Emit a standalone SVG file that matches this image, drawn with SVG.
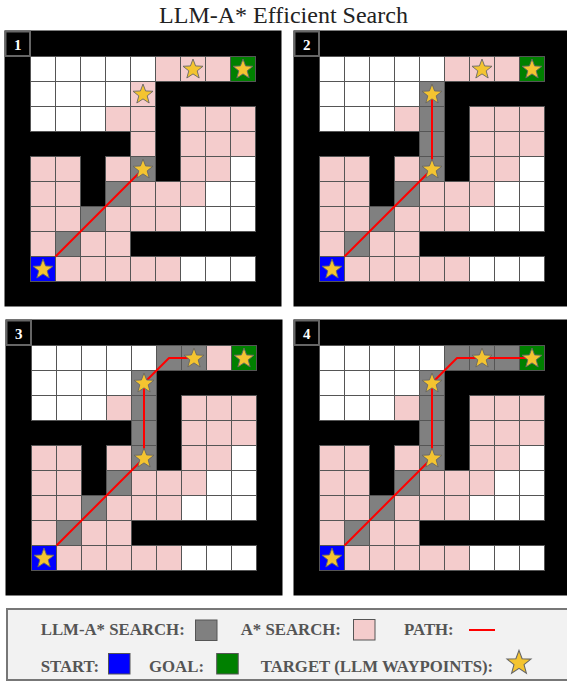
<svg xmlns="http://www.w3.org/2000/svg" xmlns:xlink="http://www.w3.org/1999/xlink" width="567" height="684" viewBox="0 0 567 684">
<style>
.w{fill:#ffffff}
.p{fill:#f4cccc}
.g{fill:#808080}
.b{fill:#0000ff}
.gr{fill:#008000}
.cells rect, .vcell{stroke:#555;stroke-width:1}
.bg{fill:#000}
.lab{fill:#000;stroke:#666;stroke-width:2}
.num{fill:#fff;font-family:"Liberation Serif",serif;font-weight:bold;font-size:15px;text-anchor:middle}
.path{fill:none;stroke:#ff0000;stroke-width:2;stroke-linejoin:round}
.star{fill:#f4c430;stroke:#666;stroke-width:0.9}
.lt{fill:#555;font-family:"Liberation Serif",serif;font-weight:bold;font-size:16.8px}
</style>
<defs>
<polygon id="star" class="star" points="0,-10.5 2.59,-3.56 9.99,-3.25 4.19,1.36 6.17,8.5 0,4.4 -6.17,8.5 -4.19,1.36 -9.99,-3.25 -2.59,-3.56"/>
<g id="base">
<rect class="bg" x="-26" y="-26" width="277" height="276"/>
<g class="cells">
<rect class="w" x="0" y="0" width="25" height="25"/><rect class="w" x="25" y="0" width="25" height="25"/><rect class="w" x="50" y="0" width="25" height="25"/><rect class="w" x="75" y="0" width="25" height="25"/><rect class="w" x="100" y="0" width="25" height="25"/><rect class="gr" x="200" y="0" width="25" height="25"/>
<rect class="w" x="0" y="25" width="25" height="25"/><rect class="w" x="25" y="25" width="25" height="25"/><rect class="w" x="50" y="25" width="25" height="25"/><rect class="w" x="75" y="25" width="25" height="25"/>
<rect class="w" x="0" y="50" width="25" height="25"/><rect class="w" x="25" y="50" width="25" height="25"/><rect class="w" x="50" y="50" width="25" height="25"/><rect class="p" x="75" y="50" width="25" height="25"/><rect class="p" x="150" y="50" width="25" height="25"/><rect class="p" x="175" y="50" width="25" height="25"/><rect class="p" x="200" y="50" width="25" height="25"/>
<rect class="p" x="150" y="75" width="25" height="25"/><rect class="p" x="175" y="75" width="25" height="25"/><rect class="p" x="200" y="75" width="25" height="25"/>
<rect class="p" x="0" y="100" width="25" height="25"/><rect class="p" x="25" y="100" width="25" height="25"/><rect class="p" x="75" y="100" width="25" height="25"/><rect class="g" x="100" y="100" width="25" height="25"/><rect class="p" x="150" y="100" width="25" height="25"/><rect class="p" x="175" y="100" width="25" height="25"/><rect class="w" x="200" y="100" width="25" height="25"/>
<rect class="p" x="0" y="125" width="25" height="25"/><rect class="p" x="25" y="125" width="25" height="25"/><rect class="g" x="75" y="125" width="25" height="25"/><rect class="p" x="100" y="125" width="25" height="25"/><rect class="p" x="125" y="125" width="25" height="25"/><rect class="p" x="150" y="125" width="25" height="25"/><rect class="w" x="175" y="125" width="25" height="25"/><rect class="w" x="200" y="125" width="25" height="25"/>
<rect class="p" x="0" y="150" width="25" height="25"/><rect class="p" x="25" y="150" width="25" height="25"/><rect class="g" x="50" y="150" width="25" height="25"/><rect class="p" x="75" y="150" width="25" height="25"/><rect class="p" x="100" y="150" width="25" height="25"/><rect class="p" x="125" y="150" width="25" height="25"/><rect class="w" x="150" y="150" width="25" height="25"/><rect class="w" x="175" y="150" width="25" height="25"/><rect class="w" x="200" y="150" width="25" height="25"/>
<rect class="p" x="0" y="175" width="25" height="25"/><rect class="g" x="25" y="175" width="25" height="25"/><rect class="p" x="50" y="175" width="25" height="25"/><rect class="p" x="75" y="175" width="25" height="25"/>
<rect class="b" x="0" y="200" width="25" height="25"/><rect class="p" x="25" y="200" width="25" height="25"/><rect class="p" x="50" y="200" width="25" height="25"/><rect class="p" x="75" y="200" width="25" height="25"/><rect class="p" x="100" y="200" width="25" height="25"/><rect class="p" x="125" y="200" width="25" height="25"/><rect class="w" x="150" y="200" width="25" height="25"/><rect class="w" x="175" y="200" width="25" height="25"/><rect class="w" x="200" y="200" width="25" height="25"/>
</g>
</g>
<g id="stars">
<use xlink:href="#star" href="#star" x="162.5" y="13"/>
<use xlink:href="#star" href="#star" x="212.5" y="13"/>
<use xlink:href="#star" href="#star" x="112.5" y="38"/>
<use xlink:href="#star" href="#star" x="112.5" y="113"/>
<use xlink:href="#star" href="#star" x="12.5" y="213"/>
</g>
</defs>

<text x="283.5" y="22.5" font-family="Liberation Serif, serif" font-size="24" fill="#222" text-anchor="middle">LLM-A* Efficient Search</text>

<g id="panel1" transform="translate(30.5,56.5)">
<use xlink:href="#base" href="#base"/>
<rect class="p vcell" x="125" y="0" width="25" height="25"/><rect class="p vcell" x="150" y="0" width="25" height="25"/><rect class="p vcell" x="175" y="0" width="25" height="25"/>
<rect class="p vcell" x="100" y="25" width="25" height="25"/><rect class="p vcell" x="100" y="50" width="25" height="25"/><rect class="p vcell" x="100" y="75" width="25" height="25"/>
<rect class="lab" x="-25" y="-25" width="24.5" height="24.5"/>
<text class="num" x="-12.8" y="-7">1</text>
<g class="connectors"><polyline class="path" points="25,200 112.5,112.5"/></g>
<use xlink:href="#stars" href="#stars"/>
</g>

<g id="panel2" transform="translate(319.5,56.5)">
<use xlink:href="#base" href="#base"/>
<rect class="p vcell" x="125" y="0" width="25" height="25"/><rect class="p vcell" x="150" y="0" width="25" height="25"/><rect class="p vcell" x="175" y="0" width="25" height="25"/>
<rect class="g vcell" x="100" y="25" width="25" height="25"/><rect class="g vcell" x="100" y="50" width="25" height="25"/><rect class="g vcell" x="100" y="75" width="25" height="25"/>
<rect class="lab" x="-25" y="-25" width="24.5" height="24.5"/>
<text class="num" x="-12.8" y="-7">2</text>
<g class="connectors"><polyline class="path" points="25,200 112.5,112.5 112.5,37.5"/></g>
<use xlink:href="#stars" href="#stars"/>
</g>

<g id="panel3" transform="translate(31.5,345.5)">
<use xlink:href="#base" href="#base"/>
<rect class="g vcell" x="125" y="0" width="25" height="25"/><rect class="g vcell" x="150" y="0" width="25" height="25"/><rect class="p vcell" x="175" y="0" width="25" height="25"/>
<rect class="g vcell" x="100" y="25" width="25" height="25"/><rect class="g vcell" x="100" y="50" width="25" height="25"/><rect class="g vcell" x="100" y="75" width="25" height="25"/>
<rect class="lab" x="-25" y="-25" width="24.5" height="24.5"/>
<text class="num" x="-12.8" y="-7">3</text>
<g class="connectors"><polyline class="path" points="25,200 112.5,112.5 112.5,37.5 137.5,12.5 162.5,12.5"/></g>
<use xlink:href="#stars" href="#stars"/>
</g>

<g id="panel4" transform="translate(319.5,345.5)">
<use xlink:href="#base" href="#base"/>
<rect class="g vcell" x="125" y="0" width="25" height="25"/><rect class="g vcell" x="150" y="0" width="25" height="25"/><rect class="g vcell" x="175" y="0" width="25" height="25"/>
<rect class="g vcell" x="100" y="25" width="25" height="25"/><rect class="g vcell" x="100" y="50" width="25" height="25"/><rect class="g vcell" x="100" y="75" width="25" height="25"/>
<rect class="lab" x="-25" y="-25" width="24.5" height="24.5"/>
<text class="num" x="-12.8" y="-7">4</text>
<g class="connectors"><polyline class="path" points="25,200 112.5,112.5 112.5,37.5 137.5,12.5 212.5,12.5"/></g>
<use xlink:href="#stars" href="#stars"/>
</g>

<g id="legend">
<rect x="7" y="609" width="565" height="71" fill="#f2f2f2" stroke="#777" stroke-width="2"/>
<text class="lt" x="40.7" y="635">LLM-A* SEARCH:</text>
<rect class="g vcell" x="195.5" y="620" width="21.5" height="20.5"/>
<text class="lt" x="240.7" y="635">A* SEARCH:</text>
<rect class="p vcell" x="353.5" y="619.5" width="21.5" height="20.5"/>
<text class="lt" x="404" y="635">PATH:</text>
<line x1="469" y1="630" x2="495" y2="630" stroke="#ff0000" stroke-width="2"/>
<text class="lt" x="40.7" y="672">START:</text>
<rect class="b vcell" x="108.5" y="653.5" width="21.5" height="20.5"/>
<text class="lt" x="149" y="672">GOAL:</text>
<rect class="gr vcell" x="216.7" y="653.5" width="21.5" height="20.5"/>
<text class="lt" x="260.7" y="672">TARGET (LLM WAYPOINTS):</text>
<use xlink:href="#star" href="#star" transform="translate(519,663) scale(1.2)"/>
</g>
</svg>
